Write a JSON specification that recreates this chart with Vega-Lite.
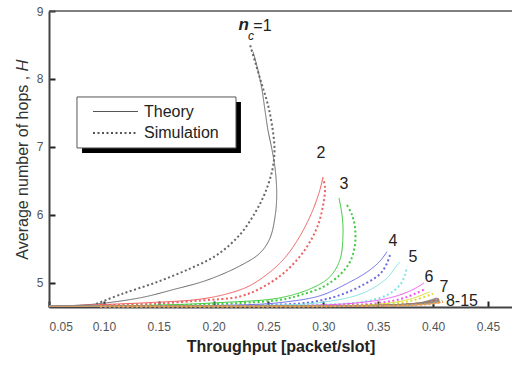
{
  "$schema": "https://vega.github.io/schema/vega-lite/v6.json",
  "width": 463,
  "height": 296,
  "autosize": {"type": "none"},
  "padding": {"left": 49, "top": 11, "right": 0, "bottom": 58},
  "background": "white",
  "config": {
    "font": "Liberation Sans",
    "view": {"stroke": null}
  },
  "datasets": {
    "curves": [
      {"n":"1","t":"Theory","i":0,"x":0.05,"y":4.655},{"n":"1","t":"Theory","i":1,"x":0.09,"y":4.685},{"n":"1","t":"Theory","i":2,"x":0.133,"y":4.78},{"n":"1","t":"Theory","i":3,"x":0.163,"y":4.9},{"n":"1","t":"Theory","i":4,"x":0.194,"y":5.04},{"n":"1","t":"Theory","i":5,"x":0.224,"y":5.25},{"n":"1","t":"Theory","i":6,"x":0.2423,"y":5.44},{"n":"1","t":"Theory","i":7,"x":0.2514,"y":5.66},{"n":"1","t":"Theory","i":8,"x":0.2562,"y":6.0},{"n":"1","t":"Theory","i":9,"x":0.2575,"y":6.3},{"n":"1","t":"Theory","i":10,"x":0.2562,"y":6.66},{"n":"1","t":"Theory","i":11,"x":0.2532,"y":6.96},{"n":"1","t":"Theory","i":12,"x":0.2495,"y":7.25},{"n":"1","t":"Theory","i":13,"x":0.2468,"y":7.54},{"n":"1","t":"Theory","i":14,"x":0.2441,"y":7.84},{"n":"1","t":"Theory","i":15,"x":0.2404,"y":8.13},{"n":"1","t":"Theory","i":16,"x":0.236,"y":8.4},
      {"n":"1","t":"Simulation","i":0,"x":0.093,"y":4.69},{"n":"1","t":"Simulation","i":1,"x":0.117,"y":4.84},{"n":"1","t":"Simulation","i":2,"x":0.148,"y":5.01},{"n":"1","t":"Simulation","i":3,"x":0.1785,"y":5.21},{"n":"1","t":"Simulation","i":4,"x":0.203,"y":5.41},{"n":"1","t":"Simulation","i":5,"x":0.224,"y":5.71},{"n":"1","t":"Simulation","i":6,"x":0.2377,"y":6.03},{"n":"1","t":"Simulation","i":7,"x":0.2468,"y":6.32},{"n":"1","t":"Simulation","i":8,"x":0.2535,"y":6.66},{"n":"1","t":"Simulation","i":9,"x":0.2555,"y":6.96},{"n":"1","t":"Simulation","i":10,"x":0.2535,"y":7.29},{"n":"1","t":"Simulation","i":11,"x":0.2495,"y":7.62},{"n":"1","t":"Simulation","i":12,"x":0.2441,"y":7.91},{"n":"1","t":"Simulation","i":13,"x":0.2386,"y":8.21},{"n":"1","t":"Simulation","i":14,"x":0.2332,"y":8.5},
      {"n":"2","t":"Theory","i":0,"x":0.05,"y":4.655},{"n":"2","t":"Theory","i":1,"x":0.0965,"y":4.68},{"n":"2","t":"Theory","i":2,"x":0.142,"y":4.71},{"n":"2","t":"Theory","i":3,"x":0.1876,"y":4.76},{"n":"2","t":"Theory","i":4,"x":0.2149,"y":4.85},{"n":"2","t":"Theory","i":5,"x":0.2331,"y":4.96},{"n":"2","t":"Theory","i":6,"x":0.2514,"y":5.16},{"n":"2","t":"Theory","i":7,"x":0.265,"y":5.37},{"n":"2","t":"Theory","i":8,"x":0.2787,"y":5.69},{"n":"2","t":"Theory","i":9,"x":0.2896,"y":6.04},{"n":"2","t":"Theory","i":10,"x":0.2969,"y":6.37},{"n":"2","t":"Theory","i":11,"x":0.2997,"y":6.56},
      {"n":"2","t":"Simulation","i":0,"x":0.0965,"y":4.67},{"n":"2","t":"Simulation","i":1,"x":0.142,"y":4.69},{"n":"2","t":"Simulation","i":2,"x":0.1876,"y":4.74},{"n":"2","t":"Simulation","i":3,"x":0.224,"y":4.8},{"n":"2","t":"Simulation","i":4,"x":0.245,"y":4.94},{"n":"2","t":"Simulation","i":5,"x":0.265,"y":5.16},{"n":"2","t":"Simulation","i":6,"x":0.2833,"y":5.49},{"n":"2","t":"Simulation","i":7,"x":0.2951,"y":5.85},{"n":"2","t":"Simulation","i":8,"x":0.3006,"y":6.22},{"n":"2","t":"Simulation","i":9,"x":0.3015,"y":6.41},{"n":"2","t":"Simulation","i":10,"x":0.2997,"y":6.54},
      {"n":"3","t":"Theory","i":0,"x":0.05,"y":4.655},{"n":"3","t":"Theory","i":1,"x":0.142,"y":4.67},{"n":"3","t":"Theory","i":2,"x":0.2058,"y":4.71},{"n":"3","t":"Theory","i":3,"x":0.2605,"y":4.78},{"n":"3","t":"Theory","i":4,"x":0.2905,"y":4.93},{"n":"3","t":"Theory","i":5,"x":0.306,"y":5.09},{"n":"3","t":"Theory","i":6,"x":0.3151,"y":5.34},{"n":"3","t":"Theory","i":7,"x":0.3179,"y":5.71},{"n":"3","t":"Theory","i":8,"x":0.317,"y":6.0},{"n":"3","t":"Theory","i":9,"x":0.3142,"y":6.25},
      {"n":"3","t":"Simulation","i":0,"x":0.0965,"y":4.66},{"n":"3","t":"Simulation","i":1,"x":0.1876,"y":4.68},{"n":"3","t":"Simulation","i":2,"x":0.2605,"y":4.75},{"n":"3","t":"Simulation","i":3,"x":0.2787,"y":4.82},{"n":"3","t":"Simulation","i":4,"x":0.2997,"y":4.94},{"n":"3","t":"Simulation","i":5,"x":0.3151,"y":5.12},{"n":"3","t":"Simulation","i":6,"x":0.3243,"y":5.31},{"n":"3","t":"Simulation","i":7,"x":0.3288,"y":5.56},{"n":"3","t":"Simulation","i":8,"x":0.3288,"y":5.82},{"n":"3","t":"Simulation","i":9,"x":0.3261,"y":6.0},{"n":"3","t":"Simulation","i":10,"x":0.3215,"y":6.15},
      {"n":"4","t":"Theory","i":0,"x":0.05,"y":4.655},{"n":"4","t":"Theory","i":1,"x":0.142,"y":4.66},{"n":"4","t":"Theory","i":2,"x":0.2331,"y":4.68},{"n":"4","t":"Theory","i":3,"x":0.2605,"y":4.71},{"n":"4","t":"Theory","i":4,"x":0.2969,"y":4.81},{"n":"4","t":"Theory","i":5,"x":0.3215,"y":4.99},{"n":"4","t":"Theory","i":6,"x":0.3398,"y":5.16},{"n":"4","t":"Theory","i":7,"x":0.3516,"y":5.32},{"n":"4","t":"Theory","i":8,"x":0.358,"y":5.46},
      {"n":"4","t":"Simulation","i":0,"x":0.0965,"y":4.655},{"n":"4","t":"Simulation","i":1,"x":0.1876,"y":4.66},{"n":"4","t":"Simulation","i":2,"x":0.2605,"y":4.68},{"n":"4","t":"Simulation","i":3,"x":0.2905,"y":4.72},{"n":"4","t":"Simulation","i":4,"x":0.3151,"y":4.82},{"n":"4","t":"Simulation","i":5,"x":0.3361,"y":4.97},{"n":"4","t":"Simulation","i":6,"x":0.3516,"y":5.13},{"n":"4","t":"Simulation","i":7,"x":0.358,"y":5.29},{"n":"4","t":"Simulation","i":8,"x":0.3607,"y":5.41},
      {"n":"5","t":"Theory","i":0,"x":0.05,"y":4.655},{"n":"5","t":"Theory","i":1,"x":0.2331,"y":4.665},{"n":"5","t":"Theory","i":2,"x":0.2969,"y":4.71},{"n":"5","t":"Theory","i":3,"x":0.3361,"y":4.85},{"n":"5","t":"Theory","i":4,"x":0.358,"y":5.07},{"n":"5","t":"Theory","i":5,"x":0.3662,"y":5.24},{"n":"5","t":"Theory","i":6,"x":0.3698,"y":5.31},
      {"n":"5","t":"Simulation","i":0,"x":0.0965,"y":4.655},{"n":"5","t":"Simulation","i":1,"x":0.2605,"y":4.665},{"n":"5","t":"Simulation","i":2,"x":0.3151,"y":4.69},{"n":"5","t":"Simulation","i":3,"x":0.3361,"y":4.72},{"n":"5","t":"Simulation","i":4,"x":0.358,"y":4.82},{"n":"5","t":"Simulation","i":5,"x":0.3698,"y":4.97},{"n":"5","t":"Simulation","i":6,"x":0.3744,"y":5.12},{"n":"5","t":"Simulation","i":7,"x":0.3762,"y":5.24},
      {"n":"6","t":"Theory","i":0,"x":0.05,"y":4.655},{"n":"6","t":"Theory","i":1,"x":0.2787,"y":4.665},{"n":"6","t":"Theory","i":2,"x":0.3334,"y":4.71},{"n":"6","t":"Theory","i":3,"x":0.3607,"y":4.78},{"n":"6","t":"Theory","i":4,"x":0.3789,"y":4.88},{"n":"6","t":"Theory","i":5,"x":0.388,"y":4.96},{"n":"6","t":"Theory","i":6,"x":0.3917,"y":5.0},
      {"n":"6","t":"Simulation","i":0,"x":0.0965,"y":4.655},{"n":"6","t":"Simulation","i":1,"x":0.2969,"y":4.665},{"n":"6","t":"Simulation","i":2,"x":0.3425,"y":4.69},{"n":"6","t":"Simulation","i":3,"x":0.3698,"y":4.76},{"n":"6","t":"Simulation","i":4,"x":0.3835,"y":4.84},{"n":"6","t":"Simulation","i":5,"x":0.3926,"y":4.91},
      {"n":"7","t":"Theory","i":0,"x":0.05,"y":4.655},{"n":"7","t":"Theory","i":1,"x":0.297,"y":4.66},{"n":"7","t":"Theory","i":2,"x":0.3516,"y":4.69},{"n":"7","t":"Theory","i":3,"x":0.3789,"y":4.76},{"n":"7","t":"Theory","i":4,"x":0.3971,"y":4.87},
      {"n":"7","t":"Simulation","i":0,"x":0.0965,"y":4.655},{"n":"7","t":"Simulation","i":1,"x":0.3151,"y":4.66},{"n":"7","t":"Simulation","i":2,"x":0.3607,"y":4.69},{"n":"7","t":"Simulation","i":3,"x":0.3835,"y":4.75},{"n":"7","t":"Simulation","i":4,"x":0.4,"y":4.84},
      {"n":"8","t":"Theory","i":0,"x":0.05,"y":4.655},{"n":"8","t":"Theory","i":1,"x":0.3,"y":4.66},{"n":"8","t":"Theory","i":2,"x":0.36,"y":4.675},{"n":"8","t":"Theory","i":3,"x":0.39,"y":4.715},{"n":"8","t":"Theory","i":4,"x":0.4035,"y":4.78},
      {"n":"9","t":"Theory","i":0,"x":0.05,"y":4.655},{"n":"9","t":"Theory","i":1,"x":0.3,"y":4.66},{"n":"9","t":"Theory","i":2,"x":0.36,"y":4.675},{"n":"9","t":"Theory","i":3,"x":0.39,"y":4.71},{"n":"9","t":"Theory","i":4,"x":0.404,"y":4.77},
      {"n":"10","t":"Theory","i":0,"x":0.05,"y":4.655},{"n":"10","t":"Theory","i":1,"x":0.3,"y":4.66},{"n":"10","t":"Theory","i":2,"x":0.36,"y":4.673},{"n":"10","t":"Theory","i":3,"x":0.39,"y":4.705},{"n":"10","t":"Theory","i":4,"x":0.4045,"y":4.76},
      {"n":"11","t":"Theory","i":0,"x":0.05,"y":4.655},{"n":"11","t":"Theory","i":1,"x":0.3,"y":4.66},{"n":"11","t":"Theory","i":2,"x":0.36,"y":4.672},{"n":"11","t":"Theory","i":3,"x":0.39,"y":4.7},{"n":"11","t":"Theory","i":4,"x":0.405,"y":4.75},
      {"n":"12","t":"Theory","i":0,"x":0.05,"y":4.655},{"n":"12","t":"Theory","i":1,"x":0.3,"y":4.66},{"n":"12","t":"Theory","i":2,"x":0.36,"y":4.67},{"n":"12","t":"Theory","i":3,"x":0.39,"y":4.695},{"n":"12","t":"Theory","i":4,"x":0.4055,"y":4.74},
      {"n":"13","t":"Theory","i":0,"x":0.05,"y":4.655},{"n":"13","t":"Theory","i":1,"x":0.3,"y":4.658},{"n":"13","t":"Theory","i":2,"x":0.36,"y":4.668},{"n":"13","t":"Theory","i":3,"x":0.39,"y":4.69},{"n":"13","t":"Theory","i":4,"x":0.406,"y":4.73},
      {"n":"14","t":"Theory","i":0,"x":0.05,"y":4.655},{"n":"14","t":"Theory","i":1,"x":0.3,"y":4.658},{"n":"14","t":"Theory","i":2,"x":0.36,"y":4.666},{"n":"14","t":"Theory","i":3,"x":0.39,"y":4.685},{"n":"14","t":"Theory","i":4,"x":0.4065,"y":4.72},
      {"n":"15","t":"Theory","i":0,"x":0.05,"y":4.655},{"n":"15","t":"Theory","i":1,"x":0.3,"y":4.657},{"n":"15","t":"Theory","i":2,"x":0.36,"y":4.664},{"n":"15","t":"Theory","i":3,"x":0.39,"y":4.68},{"n":"15","t":"Theory","i":4,"x":0.407,"y":4.71},
      {"n":"8","t":"Simulation","i":0,"x":0.0965,"y":4.655},{"n":"8","t":"Simulation","i":1,"x":0.32,"y":4.662},{"n":"8","t":"Simulation","i":2,"x":0.37,"y":4.68},{"n":"8","t":"Simulation","i":3,"x":0.395,"y":4.715},{"n":"8","t":"Simulation","i":4,"x":0.4065,"y":4.77},
      {"n":"10","t":"Simulation","i":0,"x":0.0965,"y":4.655},{"n":"10","t":"Simulation","i":1,"x":0.32,"y":4.66},{"n":"10","t":"Simulation","i":2,"x":0.37,"y":4.675},{"n":"10","t":"Simulation","i":3,"x":0.395,"y":4.705},{"n":"10","t":"Simulation","i":4,"x":0.4075,"y":4.75},
      {"n":"12","t":"Simulation","i":0,"x":0.0965,"y":4.655},{"n":"12","t":"Simulation","i":1,"x":0.32,"y":4.66},{"n":"12","t":"Simulation","i":2,"x":0.37,"y":4.672},{"n":"12","t":"Simulation","i":3,"x":0.395,"y":4.695},{"n":"12","t":"Simulation","i":4,"x":0.4085,"y":4.735},
      {"n":"15","t":"Simulation","i":0,"x":0.0965,"y":4.655},{"n":"15","t":"Simulation","i":1,"x":0.32,"y":4.658},{"n":"15","t":"Simulation","i":2,"x":0.37,"y":4.668},{"n":"15","t":"Simulation","i":3,"x":0.395,"y":4.685},{"n":"15","t":"Simulation","i":4,"x":0.409,"y":4.72}
    ],
    "labels": [
      {"lab":"=1","x":0.2445,"y":8.78},
      {"lab":"2","x":0.2978,"y":6.91},
      {"lab":"3","x":0.3188,"y":6.46},
      {"lab":"4","x":0.3634,"y":5.62},
      {"lab":"5","x":0.3816,"y":5.38},
      {"lab":"6","x":0.3962,"y":5.09},
      {"lab":"7","x":0.41,"y":4.94},
      {"lab":"8-15","x":0.4263,"y":4.74}
    ]
  },
  "layer": [
    {
      "data": {"values": [{}]},
      "mark": {"type": "rect", "color": "black"},
      "encoding": {
        "x": {"datum": 0.0801}, "x2": {"datum": 0.2249},
        "y": {"datum": 7.662}, "y2": {"datum": 6.912}
      }
    },
    {
      "data": {"values": [{}]},
      "mark": {"type": "rect", "fill": "white", "stroke": "#555", "strokeWidth": 1},
      "encoding": {
        "x": {"datum": 0.0755}, "x2": {"datum": 0.2204},
        "y": {"datum": 7.735}, "y2": {"datum": 6.985}
      }
    },
    {
      "data": {"values": [{}]},
      "mark": {"type": "rule", "color": "#555", "strokeWidth": 1.5},
      "encoding": {"y": {"datum": 9}}
    },
    {
      "data": {"name": "curves"},
      "mark": {"type": "line", "interpolate": "catmull-rom"},
      "encoding": {
        "x": {
          "field": "x", "type": "quantitative",
          "scale": {"domain": [0.05, 0.4719], "nice": false, "zero": false},
          "axis": {
            "title": "Throughput [packet/slot]",
            "values": [0.05,0.075,0.1,0.125,0.15,0.175,0.2,0.225,0.25,0.275,0.3,0.325,0.35,0.375,0.4,0.425,0.45],
            "labelExpr": "abs(datum.value*20 - round(datum.value*20)) < 0.001 ? format(datum.value, '.2f') : ''",
            "tickSize": {"condition": {"test": "abs(datum.value*20 - round(datum.value*20)) < 0.001", "value": -6}, "value": -3},
            "labelPadding": 20,
            "grid": false,
            "domainColor": "#444", "domainWidth": 2,
            "tickColor": "#222", "tickWidth": 2,
            "labelColor": "#555", "labelFontSize": 12,
            "titleFontSize": 16, "titleFontWeight": "bold", "titleColor": "#222", "titlePadding": 6
          }
        },
        "y": {
          "field": "y", "type": "quantitative",
          "scale": {"domain": [4.645, 9], "nice": false, "zero": false},
          "axis": {
            "title": "Average number of hops , 𝐻",
            "values": [5,5.5,6,6.5,7,7.5,8,8.5,9],
            "labelExpr": "datum.value % 1 === 0 ? format(datum.value, 'd') : ''",
            "tickSize": {"condition": {"test": "datum.value % 1 === 0", "value": -6}, "value": -3},
            "labelPadding": 12,
            "grid": false,
            "domainColor": "#444", "domainWidth": 2,
            "tickColor": "#222", "tickWidth": 2,
            "labelColor": "#555", "labelFontSize": 12,
            "titleFontSize": 16, "titleFontWeight": "normal", "titleColor": "#333", "titlePadding": 6
          }
        },
        "order": {"field": "i", "type": "quantitative"},
        "color": {
          "field": "n", "type": "nominal",
          "scale": {
            "domain": ["1","2","3","4","5","6","7","8","9","10","11","12","13","14","15"],
            "range": ["#666666","#ee5f5f","#3ecb3e","#6a6ae6","#7fe3e3","#ee55ee","#dede3a","#a08040","#7070a8","#a070a0","#b06878","#989850","#50a0a0","#7088d0","#f0a050"]
          },
          "legend": null
        },
        "strokeDash": {
          "field": "t", "type": "nominal",
          "scale": {"domain": ["Theory", "Simulation"], "range": [[1, 0], [2, 2.5]]},
          "legend": {
            "orient": "none", "legendX": 43, "legendY": 90,
            "title": null,
            "symbolType": "M-1,0H3.5", "symbolSize": 400,
            "symbolStrokeWidth": 1.2, "symbolStrokeColor": "#555",
            "labelFontSize": 16, "labelColor": "#222", "labelOffset": 30,
            "rowPadding": 2, "padding": 0
          }
        },
        "strokeWidth": {
          "field": "t", "type": "nominal",
          "scale": {"domain": ["Theory", "Simulation"], "range": [1, 2]},
          "legend": null
        }
      }
    },
    {
      "data": {"name": "labels"},
      "mark": {"type": "text", "fontSize": 16, "color": "#222", "align": "center", "baseline": "middle"},
      "encoding": {
        "x": {"field": "x", "type": "quantitative"},
        "y": {"field": "y", "type": "quantitative"},
        "text": {"field": "lab"}
      }
    },
    {
      "data": {"values": [{"lab": "n", "x": 0.2275, "y": 8.8}]},
      "mark": {"type": "text", "fontSize": 17, "fontStyle": "italic", "fontWeight": "bold", "color": "#222", "align": "center", "baseline": "middle"},
      "encoding": {
        "x": {"field": "x", "type": "quantitative"},
        "y": {"field": "y", "type": "quantitative"},
        "text": {"field": "lab"}
      }
    },
    {
      "data": {"values": [{"lab": "c", "x": 0.234, "y": 8.63}]},
      "mark": {"type": "text", "fontSize": 12, "fontStyle": "italic", "color": "#222", "align": "center", "baseline": "middle"},
      "encoding": {
        "x": {"field": "x", "type": "quantitative"},
        "y": {"field": "y", "type": "quantitative"},
        "text": {"field": "lab"}
      }
    }
  ]
}
